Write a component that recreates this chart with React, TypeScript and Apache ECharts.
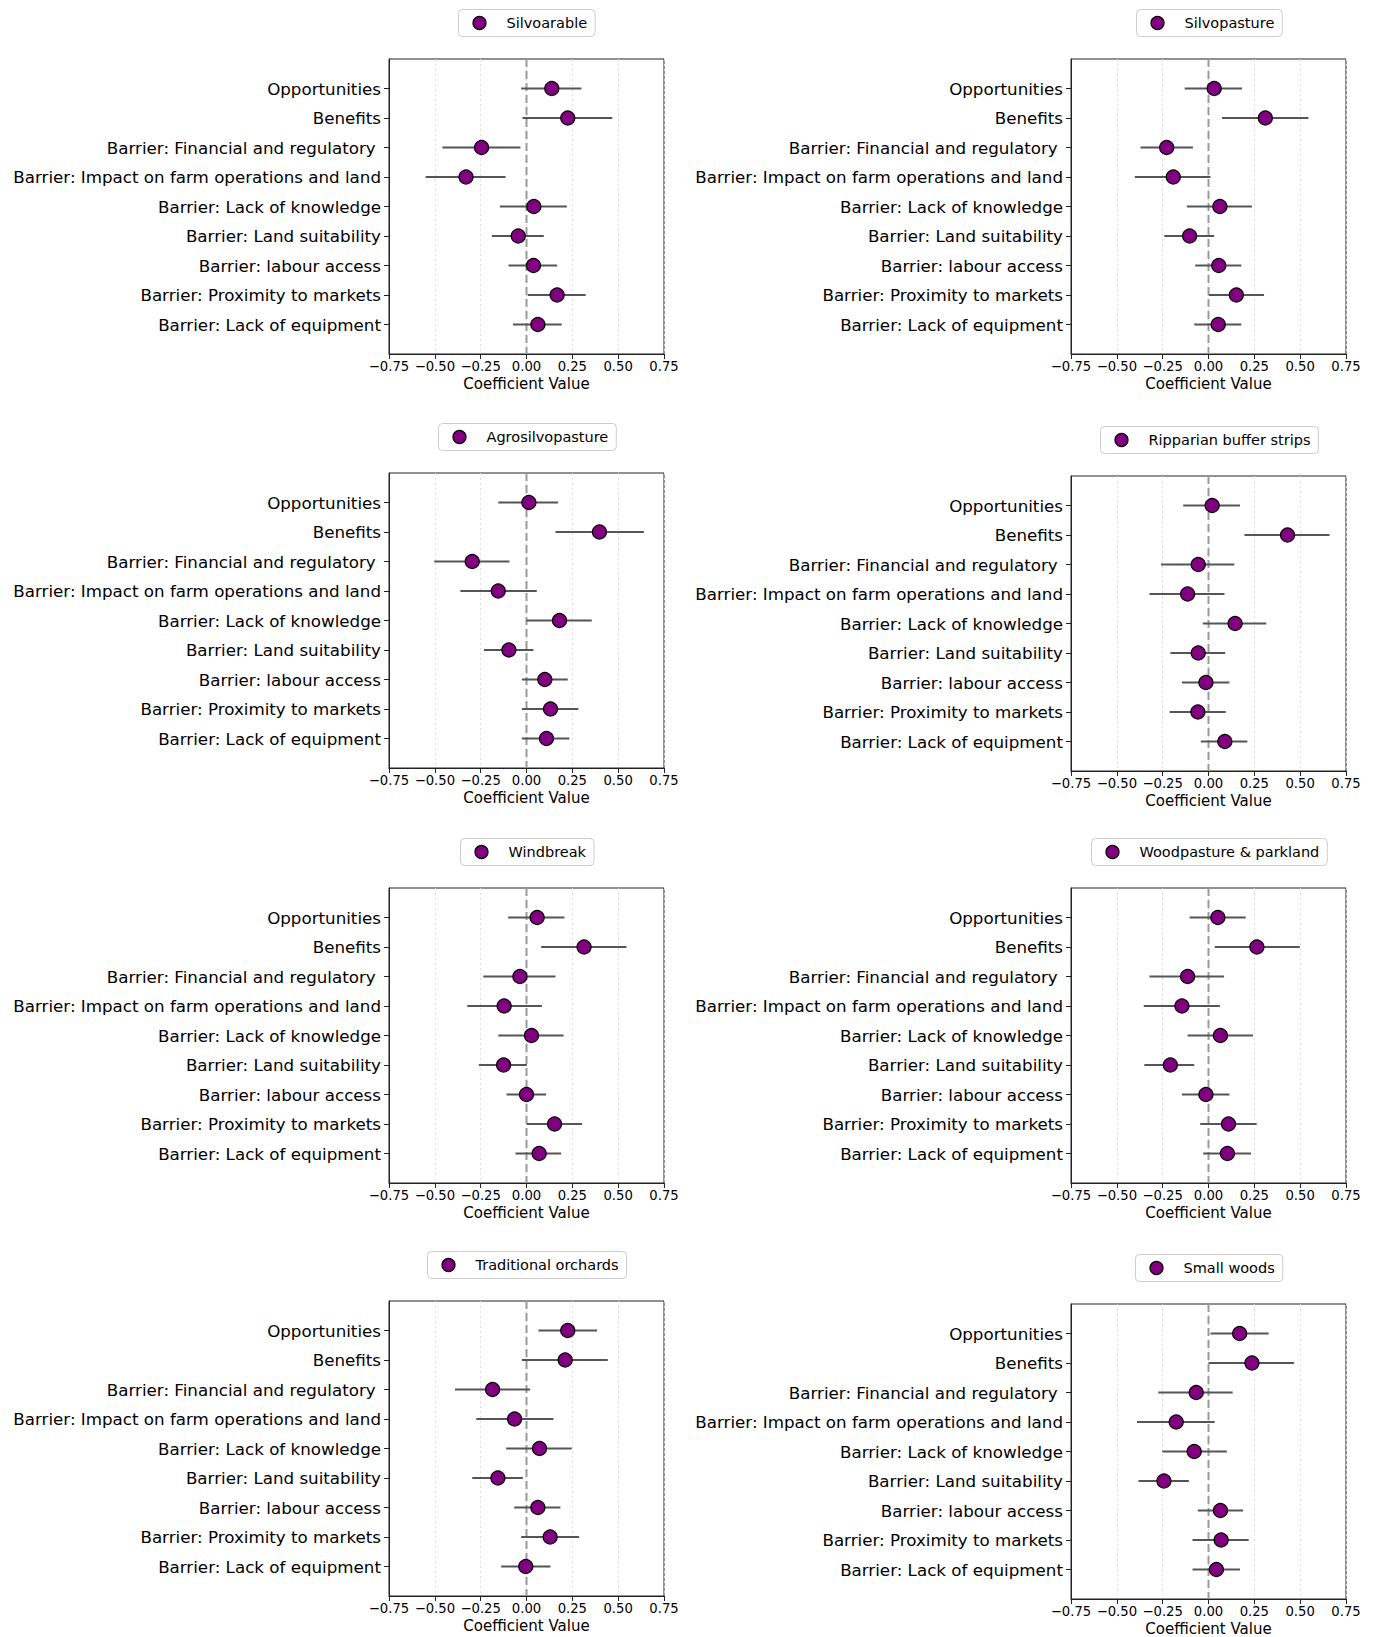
import React, { useEffect, useRef } from 'react';
import * as echarts from 'echarts';

const categories = [
  'Opportunities',
  'Benefits',
  'Barrier: Financial and regulatory ',
  'Barrier: Impact on farm operations and land',
  'Barrier: Lack of knowledge',
  'Barrier: Land suitability',
  'Barrier: labour access',
  'Barrier: Proximity to markets',
  'Barrier: Lack of equipment',
];

const panelNames = [
  'Silvoarable',
  'Silvopasture',
  'Agrosilvopasture',
  'Ripparian buffer strips',
  'Windbreak',
  'Woodpasture & parkland',
  'Traditional orchards',
  'Small woods',
];

const xTickMin = -0.75;
const xTickMax = 0.75;
const xTickStep = 0.25;

// Coefficients and CI bounds, one set per panel (order = categories)
const silvoarableCoef = [0.138, 0.225, -0.245, -0.33, 0.04, -0.045, 0.038, 0.167, 0.062];
const silvoarableLow = [-0.029, -0.022, -0.459, -0.55, -0.145, -0.189, -0.098, 0.007, -0.074];
const silvoarableHigh = [0.3, 0.468, -0.033, -0.114, 0.22, 0.094, 0.167, 0.323, 0.192];

const silvopastureCoef = [0.031, 0.31, -0.228, -0.192, 0.062, -0.103, 0.056, 0.152, 0.053];
const silvopastureLow = [-0.13, 0.074, -0.371, -0.402, -0.118, -0.241, -0.072, 0.002, -0.078];
const silvopastureHigh = [0.183, 0.545, -0.085, 0.011, 0.237, 0.031, 0.179, 0.303, 0.179];

const agrosilvopastureCoef = [0.013, 0.398, -0.296, -0.154, 0.18, -0.096, 0.1, 0.131, 0.109];
const agrosilvopastureLow = [-0.154, 0.158, -0.503, -0.361, 0.0, -0.232, -0.025, -0.025, -0.025];
const agrosilvopastureHigh = [0.172, 0.64, -0.093, 0.056, 0.356, 0.038, 0.225, 0.283, 0.234];

const riparianCoef = [0.02, 0.431, -0.056, -0.114, 0.145, -0.056, -0.014, -0.058, 0.089];
const riparianLow = [-0.138, 0.196, -0.259, -0.322, -0.031, -0.208, -0.145, -0.212, -0.042];
const riparianHigh = [0.172, 0.66, 0.141, 0.087, 0.315, 0.091, 0.114, 0.094, 0.212];

const windbreakCoef = [0.058, 0.314, -0.036, -0.122, 0.027, -0.125, 0.0, 0.153, 0.069];
const windbreakLow = [-0.1, 0.08, -0.236, -0.323, -0.154, -0.26, -0.109, 0.002, -0.06];
const windbreakHigh = [0.207, 0.545, 0.158, 0.084, 0.202, 0.002, 0.107, 0.303, 0.189];

const woodpastureCoef = [0.051, 0.264, -0.114, -0.145, 0.065, -0.208, -0.014, 0.109, 0.103];
const woodpastureLow = [-0.103, 0.034, -0.322, -0.353, -0.114, -0.35, -0.145, -0.045, -0.029];
const woodpastureHigh = [0.203, 0.498, 0.085, 0.062, 0.243, -0.078, 0.114, 0.263, 0.232];

const orchardsCoef = [0.225, 0.211, -0.185, -0.065, 0.071, -0.156, 0.062, 0.129, -0.004];
const orchardsLow = [0.065, -0.025, -0.39, -0.274, -0.111, -0.296, -0.067, -0.029, -0.138];
const orchardsHigh = [0.385, 0.443, 0.02, 0.147, 0.247, -0.02, 0.185, 0.287, 0.131];

const smallWoodsCoef = [0.17, 0.237, -0.067, -0.176, -0.078, -0.243, 0.065, 0.069, 0.043];
const smallWoodsLow = [0.011, 0.0, -0.274, -0.39, -0.252, -0.382, -0.058, -0.087, -0.087];
const smallWoodsHigh = [0.328, 0.466, 0.132, 0.034, 0.1, -0.107, 0.188, 0.219, 0.172];

const panelCoef = [silvoarableCoef, silvopastureCoef, agrosilvopastureCoef, riparianCoef, windbreakCoef, woodpastureCoef, orchardsCoef, smallWoodsCoef];
const panelLow = [silvoarableLow, silvopastureLow, agrosilvopastureLow, riparianLow, windbreakLow, woodpastureLow, orchardsLow, smallWoodsLow];
const panelHigh = [silvoarableHigh, silvopastureHigh, agrosilvopastureHigh, riparianHigh, windbreakHigh, woodpastureHigh, orchardsHigh, smallWoodsHigh];

// Layout (pixels)
const W = 1375;
const H = 1637;
const colLeft = [389, 1071];
const gridTops = [59, 59, 473, 476, 888, 888, 1301, 1304];
const gridW = 275;
const gridH = 295;
const FONT = "'DejaVu Sans', 'Liberation Sans', sans-serif";
const LEGEND_FS = 14.5;
const POINT_COLOR = '#800080';

function fmtTick(v: number): string {
  if (Math.abs(v) < 1e-9) return '0.00';
  return (v < 0 ? '\u2212' : '') + Math.abs(v).toFixed(2);
}

export default function App() {
  const ref = useRef<HTMLDivElement>(null);

  useEffect(() => {
    document.body.style.margin = '0';
    if (!ref.current) return;
    const chart = echarts.init(ref.current, undefined, { renderer: 'svg' });

    const canvas = document.createElement('canvas');
    const ctx = canvas.getContext('2d')!;
    ctx.font = `${LEGEND_FS}px 'DejaVu Sans'`;

    const grids: any[] = [];
    const xAxes: any[] = [];
    const yAxes: any[] = [];
    const series: any[] = [];
    const graphics: any[] = [];
    const idx = categories.map((_, i) => i);

    panelNames.forEach((name, p) => {
      const left = colLeft[p % 2];
      const top = gridTops[p];
      grids.push({
        left, top, width: gridW, height: gridH,
        show: true, borderColor: '#222', borderWidth: 1,
        backgroundColor: 'transparent',
        containLabel: false,
        outerBoundsMode: 'none',
      });
      xAxes.push({
        gridIndex: p, type: 'value', min: xTickMin, max: xTickMax, interval: xTickStep,
        name: 'Coefficient Value', nameLocation: 'middle', nameGap: 22,
        nameTextStyle: { fontSize: 15, color: '#000', fontFamily: FONT },
        axisLine: { show: true, onZero: false, lineStyle: { color: '#222', width: 1 } },
        axisTick: { show: true, length: 5, lineStyle: { color: '#222' } },
        axisLabel: { fontSize: 13.2, color: '#000', fontFamily: FONT, margin: 6, formatter: fmtTick },
        splitLine: { show: true, lineStyle: { type: [2, 3], color: '#dcdcdc', width: 1 } },
      });
      yAxes.push({
        gridIndex: p, type: 'value', min: -1, max: 9, interval: 1, inverse: true,
        axisLine: { show: true, onZero: false, lineStyle: { color: '#222', width: 1 } },
        axisTick: { show: true, length: 5, customValues: idx, lineStyle: { color: '#222' } },
        axisLabel: {
          customValues: idx, fontSize: 16.7, color: '#000', fontFamily: FONT, margin: 8,
          formatter: (v: number) => (v >= 0 && v < categories.length ? categories[v] : ''),
        },
        splitLine: { show: false },
      });

      // zero reference line
      series.push({
        type: 'line', name: '__zero' + p, xAxisIndex: p, yAxisIndex: p,
        data: [[0, -1], [0, 9]], symbol: 'none', silent: true, z: 1,
        lineStyle: { color: '#9a9a9a', width: 2, type: [8, 4] },
      });
      // error bars
      series.push({
        type: 'custom', name: '__err' + p, xAxisIndex: p, yAxisIndex: p, z: 2, silent: true,
        data: categories.map((_, i) => [panelLow[p][i], panelHigh[p][i], i]),
        encode: { x: [0, 1], y: 2 },
        renderItem: (params: any, api: any) => {
          const y = api.value(2);
          const a = api.coord([api.value(0), y]);
          const b = api.coord([api.value(1), y]);
          return {
            type: 'line',
            shape: { x1: a[0], y1: a[1], x2: b[0], y2: b[1] },
            style: { stroke: '#555555', lineWidth: 2.2 },
          };
        },
      });
      // points
      series.push({
        type: 'scatter', name, xAxisIndex: p, yAxisIndex: p, z: 3,
        data: categories.map((_, i) => [panelCoef[p][i], i]),
        symbol: 'circle', symbolSize: 14,
        itemStyle: { color: POINT_COLOR, borderColor: '#000', borderWidth: 1.2, opacity: 1 },
        emphasis: { disabled: true },
      });

      // legend box
      const textW = ctx.measureText(name).width;
      const boxW = 48 + textW + 8;
      const boxH = 27;
      const cx = left + gridW / 2;
      graphics.push({
        type: 'group',
        x: Math.round(cx - boxW / 2) + 0.5,
        y: top - 50 + 0.5,
        silent: true,
        children: [
          {
            type: 'rect',
            shape: { x: 0, y: 0, width: boxW, height: boxH, r: 4 },
            style: { fill: '#ffffff', stroke: '#cccccc', lineWidth: 1 },
          },
          {
            type: 'circle',
            shape: { cx: 21, cy: boxH / 2, r: 6.5 },
            style: { fill: POINT_COLOR, stroke: '#000', lineWidth: 1.2 },
          },
          {
            type: 'text',
            x: 48,
            y: boxH / 2,
            style: {
              text: name,
              font: `${LEGEND_FS}px ${FONT}`,
              fill: '#000',
              verticalAlign: 'middle',
              align: 'left',
            },
          },
        ],
      });
    });

    chart.setOption({
      animation: false,
      backgroundColor: '#ffffff',
      grid: grids,
      xAxis: xAxes,
      yAxis: yAxes,
      graphic: graphics,
      series,
    });

    return () => chart.dispose();
  }, []);

  return <div ref={ref} style={{ width: W, height: H }} />;
}
